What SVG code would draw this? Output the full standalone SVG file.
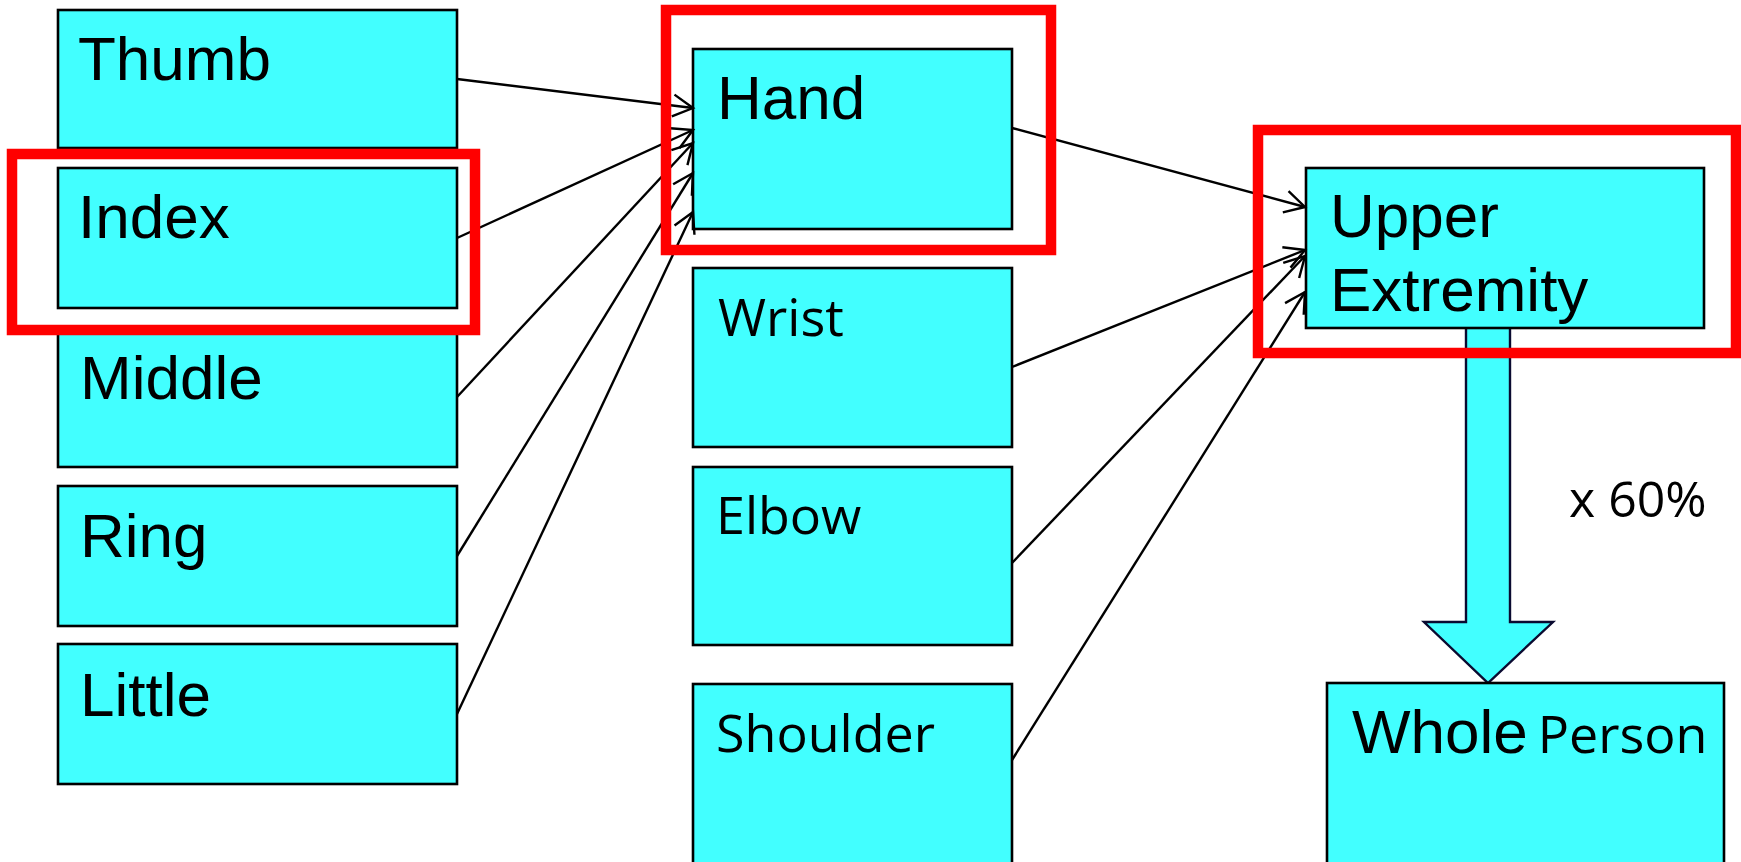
<svg xmlns="http://www.w3.org/2000/svg" width="1741" height="862" viewBox="0 0 1741 862">
  <style>
    .box { fill: #42FFFF; stroke: #000; stroke-width: 2.6; }
    .big { font-family: "Liberation Sans", Arial, sans-serif; font-size: 62px; fill: #000; }
    .small { font-family: "Open Sans", "Liberation Sans", sans-serif; font-size: 52px; fill: #000; }
    .link { fill: none; stroke: #000; stroke-width: 2.4; marker-end: url(#open-arrow); }
    .mark { fill: none; stroke: #FF0000; stroke-width: 10.5; }
  </style>
  <defs>
    <marker id="open-arrow" markerUnits="userSpaceOnUse" markerWidth="28" markerHeight="28" refX="22" refY="13" orient="auto">
      <path d="M2,2 L22,13 L2,24" fill="none" stroke="#000" stroke-width="2.4"/>
    </marker>
  </defs>

  <rect width="1741" height="862" fill="#fff"/>

  <!-- fingers -->
  <g id="thumb">
    <rect class="box" x="58" y="10" width="399" height="138"/>
    <text class="big" x="78" y="80">Thumb</text>
  </g>
  <g id="index">
    <rect class="box" x="58" y="168" width="399" height="140"/>
    <text class="big" x="78" y="238">Index</text>
  </g>
  <g id="middle">
    <rect class="box" x="58" y="327" width="399" height="140"/>
    <text class="big" x="80" y="399">Middle</text>
  </g>
  <g id="ring">
    <rect class="box" x="58" y="486" width="399" height="140"/>
    <text class="big" x="80" y="557">Ring</text>
  </g>
  <g id="little">
    <rect class="box" x="58" y="644" width="399" height="140"/>
    <text class="big" x="80" y="716">Little</text>
  </g>

  <!-- regional parts -->
  <g id="hand">
    <rect class="box" x="693" y="49" width="319" height="180"/>
    <text class="big" x="717" y="119">Hand</text>
  </g>
  <g id="wrist">
    <rect class="box" x="693" y="268" width="319" height="179"/>
    <text class="small" x="718" y="336">Wrist</text>
  </g>
  <g id="elbow">
    <rect class="box" x="693" y="467" width="319" height="178"/>
    <text class="small" x="716" y="534">Elbow</text>
  </g>
  <g id="shoulder">
    <rect class="box" x="693" y="684" width="319" height="200"/>
    <text class="small" x="716" y="752">Shoulder</text>
  </g>

  <!-- conversion to whole person -->
  <g id="conversion">
    <polygon points="1466,320 1510,320 1510,622 1553,622 1488,683 1424,622 1466,622" fill="#42FFFF" stroke="#0a0a30" stroke-width="2.4" stroke-linejoin="miter"/>
    <text font-family="'Open Sans', 'Liberation Sans', sans-serif" font-size="50" fill="#000" x="1569" y="517">x 60%</text>
  </g>

  <g id="upper-extremity">
    <rect class="box" x="1306" y="168" width="398" height="160"/>
    <text class="big" font-size="60" x="1330" y="237">Upper</text>
    <text class="big" font-size="60" x="1330" y="311">Extremity</text>
  </g>
  <g id="whole-person">
    <rect class="box" x="1327" y="683" width="397" height="200"/>
    <text x="1352" y="753"><tspan class="big" font-size="60">Whole</tspan><tspan class="small" font-size="43" dx="10">Person</tspan></text>
  </g>

  <!-- connectors -->
  <g id="connectors">
    <line class="link" x1="457" y1="79" x2="693" y2="108"/>
    <line class="link" x1="457" y1="238" x2="693" y2="130"/>
    <line class="link" x1="457" y1="397" x2="693" y2="143"/>
    <line class="link" x1="457" y1="556" x2="693" y2="173"/>
    <line class="link" x1="457" y1="714" x2="693" y2="212"/>
    <line class="link" x1="1012" y1="128" x2="1305" y2="207"/>
    <line class="link" x1="1012" y1="367" x2="1305" y2="250"/>
    <line class="link" x1="1012" y1="563" x2="1305" y2="256"/>
    <line class="link" x1="1012" y1="760" x2="1305" y2="292"/>
  </g>

  <!-- highlight frames -->
  <g id="highlights">
    <rect class="mark" x="12" y="154" width="463" height="176"/>
    <rect class="mark" x="666" y="10" width="385" height="240"/>
    <rect class="mark" x="1258" y="130" width="478" height="223"/>
  </g>
</svg>
